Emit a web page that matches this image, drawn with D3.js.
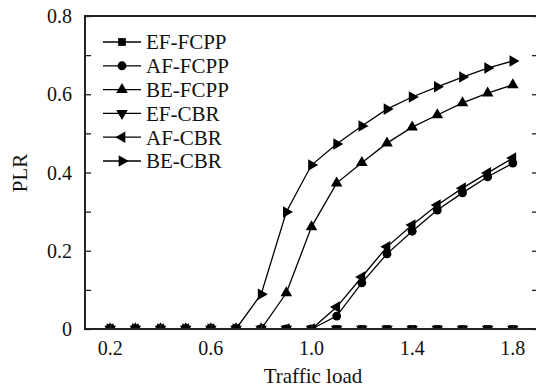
<!DOCTYPE html>
<html>
<head>
<meta charset="utf-8">
<script src="https://cdn.jsdelivr.net/npm/d3@7"></script>
<style>
  html, body { margin: 0; padding: 0; background: #fff; }
  svg { display: block; }
  text { font-family: "Liberation Serif", "Times New Roman", serif; fill: #111; }
</style>
</head>
<body>
<svg id="chart" width="536" height="391"></svg>
<script>
// Traffic load values (x axis)
const loads = [0.2, 0.3, 0.4, 0.5, 0.6, 0.7, 0.8, 0.9, 1.0, 1.1, 1.2, 1.3, 1.4, 1.5, 1.6, 1.7, 1.8];

// Packet loss ratio per class and scheme
const efFcpp = [0, 0, 0, 0, 0, 0, 0, 0, 0, 0, 0, 0, 0, 0, 0, 0, 0];
const afFcpp = [0, 0, 0, 0, 0, 0, 0, 0, 0, 0.033, 0.118, 0.192, 0.250, 0.304, 0.348, 0.389, 0.424];
const beFcpp = [0, 0, 0, 0, 0, 0, 0, 0.092, 0.261, 0.373, 0.425, 0.475, 0.516, 0.547, 0.578, 0.603, 0.624];
const efCbr  = [0, 0, 0, 0, 0, 0, 0, 0, 0, 0, 0, 0, 0, 0, 0, 0, 0];
const afCbr  = [0, 0, 0, 0, 0, 0, 0, 0, 0, 0.056, 0.133, 0.210, 0.266, 0.317, 0.360, 0.399, 0.437];
const beCbr  = [0, 0, 0, 0, 0, 0, 0.089, 0.299, 0.419, 0.473, 0.519, 0.562, 0.593, 0.619, 0.644, 0.667, 0.685];

const seriesNames = ["EF-FCPP", "AF-FCPP", "BE-FCPP", "EF-CBR", "AF-CBR", "BE-CBR"];
const seriesValues = [efFcpp, afFcpp, beFcpp, efCbr, afCbr, beCbr];
const seriesMarkers = ["square", "circle", "up", "down", "left", "right"];

// Axis ticks
const xTickValues = [0.2, 0.4, 0.6, 0.8, 1.0, 1.2, 1.4, 1.6, 1.8];
const xLabelValues = [0.2, 0.6, 1.0, 1.4, 1.8];
const yTickValues = [0, 0.1, 0.2, 0.3, 0.4, 0.5, 0.6, 0.7, 0.8];
const yLabelValues = [0, 0.2, 0.4, 0.6, 0.8];

const svg = d3.select("#chart");
const plotLeft = 85, plotRight = 538, plotTop = 16, plotBottom = 329;

const x = d3.scaleLinear().domain([0.1, 1.9]).range([plotLeft, plotRight]);
const y = d3.scaleLinear().domain([0, 0.8]).range([plotBottom, plotTop]);

svg.append("defs").append("clipPath").attr("id", "plot-clip")
  .append("rect").attr("x", plotLeft).attr("y", plotTop)
  .attr("width", plotRight - plotLeft).attr("height", plotBottom - plotTop);

// Marker shapes
const triPath = d3.symbol().type(d3.symbolTriangle).size(58)();
function markerPath(kind) {
  if (kind === "square") return d3.symbol().type(d3.symbolSquare).size(60)();
  if (kind === "circle") return d3.symbol().type(d3.symbolCircle).size(62)();
  return triPath;
}
function markerRotation(kind) {
  return { up: 0, down: 180, left: -90, right: 90 }[kind] || 0;
}

// Series lines and markers
const plot = svg.append("g").attr("clip-path", "url(#plot-clip)");
const line = d3.line().x((d, i) => x(loads[i])).y(d => y(d));

seriesValues.forEach((vals, s) => {
  const g = plot.append("g");
  g.append("path").datum(vals).attr("d", line)
    .attr("fill", "none").attr("stroke", "#000").attr("stroke-width", 1.3);
  g.selectAll("path.mk").data(vals).enter().append("path")
    .attr("class", "mk")
    .attr("d", markerPath(seriesMarkers[s]))
    .attr("transform", (d, i) => `translate(${x(loads[i])},${y(d)}) rotate(${markerRotation(seriesMarkers[s])})`)
    .attr("fill", "#000");
});

// Frame and ticks
svg.append("rect").attr("x", plotLeft).attr("y", plotTop)
  .attr("width", plotRight - plotLeft).attr("height", plotBottom - plotTop)
  .attr("fill", "none").attr("stroke", "#222").attr("stroke-width", 2);

const yAxisL = d3.axisLeft(y).tickValues(yTickValues).tickSize(-6).tickFormat("");
svg.append("g").attr("transform", `translate(${plotLeft},0)`).call(yAxisL)
  .call(g => g.select(".domain").remove())
  .call(g => g.selectAll("line").attr("stroke", "#222").attr("stroke-width", 1.3));

const yAxisR = d3.axisRight(y).tickValues(yTickValues).tickSize(-6).tickFormat("");
svg.append("g").attr("transform", `translate(${plotRight},0)`).call(yAxisR)
  .call(g => g.select(".domain").remove())
  .call(g => g.selectAll("line").attr("stroke", "#222").attr("stroke-width", 1.3));

const xAxis = d3.axisBottom(x).tickValues(xTickValues).tickSize(-4).tickFormat("");
svg.append("g").attr("transform", `translate(0,${plotBottom})`).call(xAxis)
  .call(g => g.select(".domain").remove())
  .call(g => g.selectAll("line").attr("stroke", "#222").attr("stroke-width", 1.3));

// Tick labels
svg.append("g").selectAll("text").data(xLabelValues).enter().append("text")
  .attr("x", d => x(d)).attr("y", 355)
  .attr("text-anchor", "middle").attr("font-size", 20)
  .text(d => d3.format(".1f")(d));

svg.append("g").selectAll("text").data(yLabelValues).enter().append("text")
  .attr("x", 72).attr("y", d => y(d)).attr("dy", "0.36em")
  .attr("text-anchor", "end").attr("font-size", 20)
  .text(d => d === 0 ? "0" : d3.format(".1f")(d));

// Axis titles
svg.append("text").attr("x", 313).attr("y", 383)
  .attr("text-anchor", "middle").attr("font-size", 21).text("Traffic load");
svg.append("text").attr("transform", "translate(27,173) rotate(-90)")
  .attr("text-anchor", "middle").attr("font-size", 21).text("PLR");

// Legend
const legend = svg.append("g");
const rowY = d => 42 + d * 23.8;
seriesNames.forEach((name, s) => {
  const yy = rowY(s);
  legend.append("line").attr("x1", 103).attr("x2", 141).attr("y1", yy).attr("y2", yy)
    .attr("stroke", "#000").attr("stroke-width", 1.3);
  legend.append("path").attr("d", markerPath(seriesMarkers[s]))
    .attr("transform", `translate(122,${yy}) rotate(${markerRotation(seriesMarkers[s])})`)
    .attr("fill", "#000");
  legend.append("text").attr("x", 146).attr("y", yy).attr("dy", "0.35em")
    .attr("font-size", 21).text(name);
});
</script>
</body>
</html>
